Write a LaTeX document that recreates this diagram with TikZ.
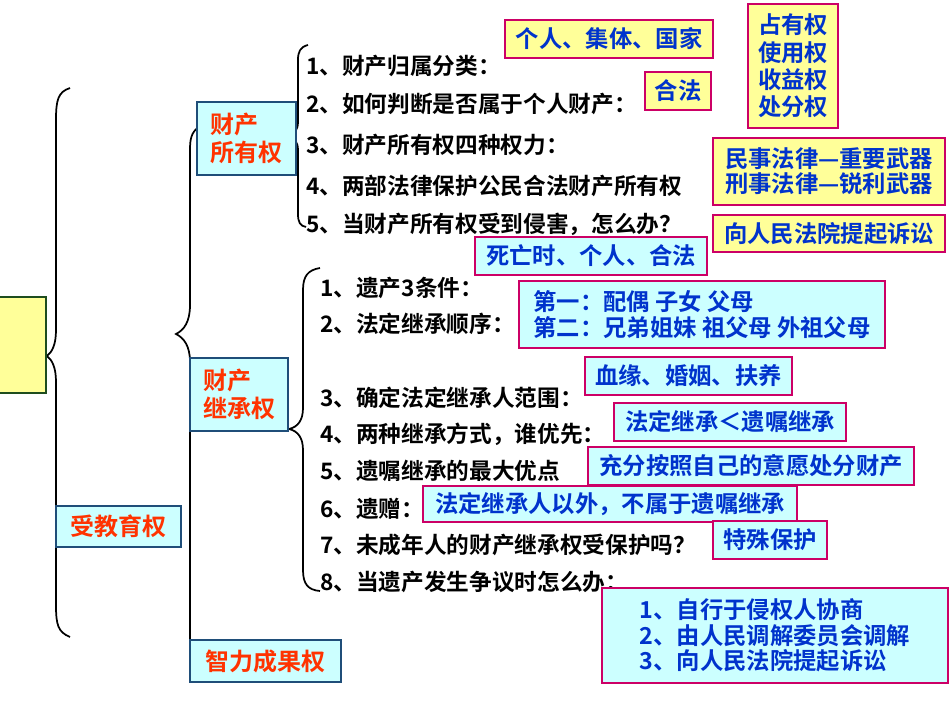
\documentclass[tikz,border=0pt]{standalone}
\usepackage{fontspec}
\setmainfont{Noto Sans CJK SC}[BoldFont={Noto Sans CJK SC Bold}]
\usetikzlibrary{positioning}
\definecolor{ylw}{HTML}{FFFF99}
\definecolor{cyn}{HTML}{CCFFFF}
\definecolor{mag}{HTML}{CC0066}
\definecolor{blu}{HTML}{0033CC}
\definecolor{nav}{HTML}{1F4E79}
\definecolor{org}{HTML}{FF3300}
\definecolor{grn}{HTML}{1E4D1E}
\begin{document}
\begin{tikzpicture}[x=0.75pt,y=-0.75pt,
	ybox/.style={draw=mag,line width=1.5pt,fill=ylw,text=blu,inner sep=0pt,align=center,font=\fontsize{17.5}{20}\selectfont\bfseries},
	cbox/.style={ybox,fill=cyn},
	lbox/.style={draw=nav,line width=1.5pt,fill=cyn,text=org,inner sep=0pt,align=left,font=\fontsize{18}{21}\selectfont\bfseries},
	item/.style={anchor=west,inner sep=0pt,font=\fontsize{17}{19}\selectfont\bfseries},
	brc/.style={line width=1.3pt}]
	\useasboundingbox (0,0) rectangle (950,713);
	% Braces %
	\draw [brc] (70,88) .. controls (58,92) and (56,100) .. (56,120) -- (56,330) .. controls (56,345) and (52,352) .. (47,356)
		.. controls (52,360) and (56,367) .. (56,382) -- (56,605) .. controls (56,625) and (58,632) .. (70,637);
	\draw [brc] (199,127) .. controls (191,132) and (190,140) .. (190,150) -- (190,305) .. controls (190,322) and (184,330) .. (176,334)
		.. controls (184,338) and (190,346) .. (190,362) -- (190,641);
	\draw [brc] (308,45) .. controls (300,47) and (298,52) .. (298,60) -- (298,122) .. controls (298,130) and (294,134) .. (290,136)
		.. controls (294,138) and (298,142) .. (298,150) -- (298,214) .. controls (298,222) and (300,226) .. (306,227);
	\draw [brc] (320,268) .. controls (308,270) and (303,276) .. (303,290) -- (303,408) .. controls (303,420) and (298,427) .. (289,429)
		.. controls (298,431) and (303,438) .. (303,450) -- (303,570) .. controls (303,584) and (308,590) .. (320,591);
	% Left boxes %
	\filldraw [fill=ylw,draw=grn,line width=1.5pt] (-2,297) rectangle (46,393);
	\node (jiaoyu) [lbox,minimum width=93.75pt,minimum height=30.75pt] at (118.5,526.5) {受教育权};
	\node (suoyou) [lbox,minimum width=74.25pt,minimum height=54.75pt] at (246.5,138.5) {财产\\所有权};
	\node (jicheng) [lbox,minimum width=73.5pt,minimum height=54.75pt] at (239,394.5) {财产\\继承权};
	\node (zhili) [lbox,minimum width=113.25pt,minimum height=31.5pt] at (265.5,661) {智力成果权};
	% Ownership items %
	\node (o1) [item] at (306,66) {1、财产归属分类：};
	\node (o2) [item] at (306,104) {2、如何判断是否属于个人财产：};
	\node (o3) [item] at (306,145) {3、财产所有权四种权力：};
	\node (o4) [item] at (306,186) {4、两部法律保护公民合法财产所有权};
	\node (o5) [item] at (306,224) {5、当财产所有权受到侵害，怎么办？};
	% Inheritance items %
	\node (i1) [item] at (320,288) {1、遗产3条件：};
	\node (i2) [item] at (320,324) {2、法定继承顺序：};
	\node (i3) [item] at (320,398) {3、确定法定继承人范围：};
	\node (i4) [item] at (320,434) {4、两种继承方式，谁优先：};
	\node (i5) [item] at (320,471) {5、遗嘱继承的最大优点};
	\node (i6) [item] at (320,509) {6、遗赠：};
	\node (i7) [item] at (320,545) {7、未成年人的财产继承权受保护吗？};
	\node (i8) [item] at (320,582) {8、当遗产发生争议时怎么办：};
	% Answer boxes %
	\node (a1) [ybox,minimum width=156pt,minimum height=28.5pt] at (609,39) {个人、集体、国家};
	\node (a2) [ybox,minimum width=49.5pt,minimum height=28.5pt] at (678,91) {合法};
	\node (a3) [ybox,minimum width=67.5pt,minimum height=93pt,font=\fontsize{17.5}{20.5}\selectfont\bfseries] at (793,66) {占有权\\使用权\\收益权\\处分权};
	\node (a4) [ybox,minimum width=174pt,minimum height=50.25pt,font=\fontsize{17.5}{19}\selectfont\bfseries] at (829,171.5) {民事法律—重要武器\\刑事法律—锐利武器};
	\node (a5) [ybox,minimum width=174pt,minimum height=27.75pt] at (829,233.5) {向人民法院提起诉讼};
	\node (b1) [cbox,minimum width=174pt,minimum height=28.5pt] at (591,256) {死亡时、个人、合法};
	\node (b2) [cbox,minimum width=274.5pt,minimum height=50.25pt,align=left,inner xsep=6pt,font=\fontsize{17.5}{19}\selectfont\bfseries] at (702,314.5) {第一：配偶 子女 父母\\第二：兄弟姐妹 祖父母 外祖父母};
	\node (b3) [cbox,minimum width=155.25pt,minimum height=28.5pt] at (688.5,376) {血缘、婚姻、扶养};
	\node (b4) [cbox,minimum width=174pt,minimum height=28.5pt] at (730,422) {法定继承＜遗嘱继承};
	\node (b5) [cbox,minimum width=244.5pt,minimum height=28.5pt] at (751,466) {充分按照自己的意愿处分财产};
	\node (b6) [cbox,minimum width=280.5pt,minimum height=27pt] at (610,504) {法定继承人以外，不属于遗嘱继承};
	\node (b7) [cbox,minimum width=85.5pt,minimum height=28.5pt] at (770,540) {特殊保护};
	\node (b8) [cbox,minimum width=259.5pt,minimum height=71.25pt,align=left,inner xsep=6pt,font=\fontsize{17.5}{19}\selectfont\bfseries] at (775,635.5) {1、自行于侵权人协商\\2、由人民调解委员会调解\\3、向人民法院提起诉讼};
\end{tikzpicture}
\end{document}
